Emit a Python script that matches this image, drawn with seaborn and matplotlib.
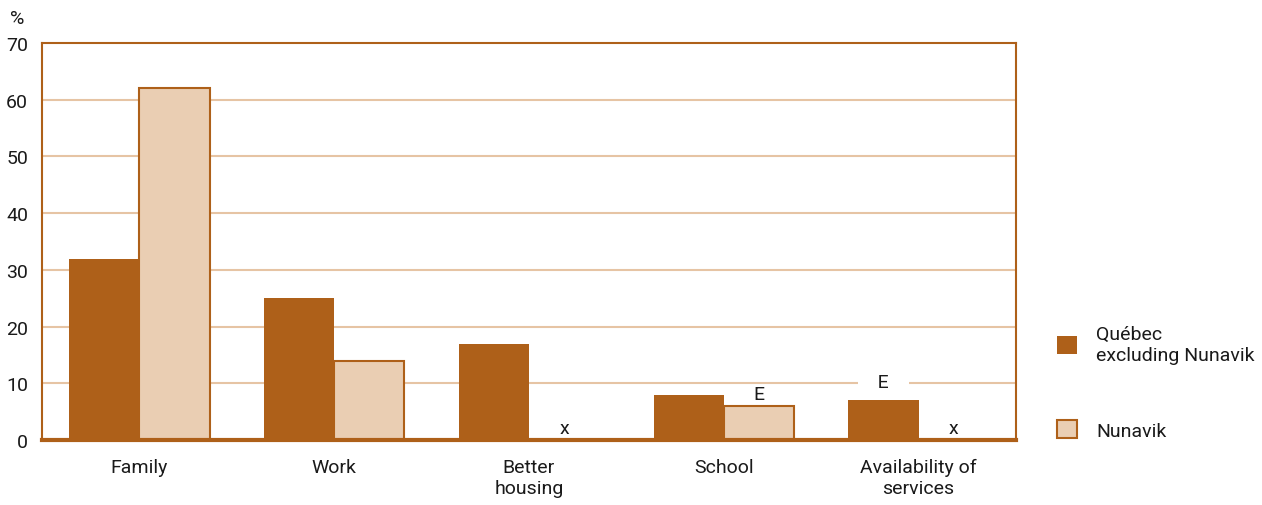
import numpy as np
import pandas as pd
import matplotlib
matplotlib.use("Agg")
import matplotlib.pyplot as plt
import seaborn as sns

sns.set_theme(style="white")
plt.rcParams['font.family'] = ['Liberation Sans Narrow', 'Roboto', 'DejaVu Sans']

# data
categories = ["Family", "Work", "Better\nhousing", "School", "Availability of\nservices"]
series = ["Québec\nexcluding Nunavik", "Nunavik"]
quebec = [32, 25, 17, 8, 7]
nunavik = [62, 14, np.nan, 6, np.nan]
quebec_flags = ["", "", "", "", "E"]
nunavik_flags = ["", "", "x", "E", "x"]

dark = "#AE6019"
light = "#EACEB3"
grid_col = "#E6C4A4"
text_col = "#1a1a1a"

df = pd.DataFrame({
    "Category": categories * 2,
    "Series": [series[0]] * len(categories) + [series[1]] * len(categories),
    "Value": quebec + nunavik,
    "Flag": quebec_flags + nunavik_flags,
})
df["Plot"] = df["Value"].fillna(0)

fig = plt.figure(figsize=(12.62, 5.06), dpi=100)
ax = fig.add_axes([0.0333, 0.1285, 0.7717, 0.7845])

sns.barplot(data=df, x="Category", y="Plot", hue="Series", order=categories,
            hue_order=series, palette=[dark, light], saturation=1, width=0.72, ax=ax,
            edgecolor=dark, linewidth=1.5, zorder=3)

# bars in hue order: first series then second
for patch, (_, row) in zip(ax.patches, df.iterrows()):
    if row["Series"] == series[0]:
        patch.set_linewidth(0)
    if not row["Flag"]:
        continue
    # flag just above the bar; if it would sit on a gridline, centre it on the line
    y = row["Plot"] + 0.6
    next_grid = np.ceil(y / 10) * 10
    on_line = next_grid - y < 3
    if on_line:
        y = next_grid - 1.3
    label = "   " + row["Flag"] + "   " if on_line else row["Flag"]
    ax.text(patch.get_x() + patch.get_width() / 2, y, label, ha="center", va="bottom",
            fontsize=14, color=text_col, zorder=2,
            bbox=dict(boxstyle="square,pad=0.3", fc="white", ec="none") if on_line else None)

ax.set_ylim(0, 70)
ax.set_xlim(-0.5, 4.5)
ax.set_yticks(range(0, 71, 10))
for y in range(10, 70, 10):
    ax.axhline(y, color=grid_col, lw=1.5, zorder=1)

for s in ["left", "right", "top"]:
    ax.spines[s].set_color(dark)
    ax.spines[s].set_linewidth(1.5)
ax.spines["bottom"].set_color(dark)
ax.spines["bottom"].set_linewidth(3)
ax.spines["bottom"].set_zorder(4)

ax.set_xlabel("")
ax.set_ylabel("")
ax.tick_params(axis="both", length=0, labelsize=14, colors=text_col)
ax.tick_params(axis="y", pad=10)
ax.tick_params(axis="x", pad=13)
ax.text(-0.025, 1.04, "%", transform=ax.transAxes, fontsize=14, color=text_col,
        ha="center", va="bottom")

handles, labels = ax.get_legend_handles_labels()
ax.get_legend().remove()
handles[0].set_linewidth(0)
fig.legend(handles, labels, loc="upper left", bbox_to_anchor=(0.824, 0.39),
           frameon=False, fontsize=14, handlelength=1.0, handleheight=1.0,
           labelspacing=2.9, handletextpad=1.0, labelcolor=text_col)

fig.savefig("out.png", dpi=100)
